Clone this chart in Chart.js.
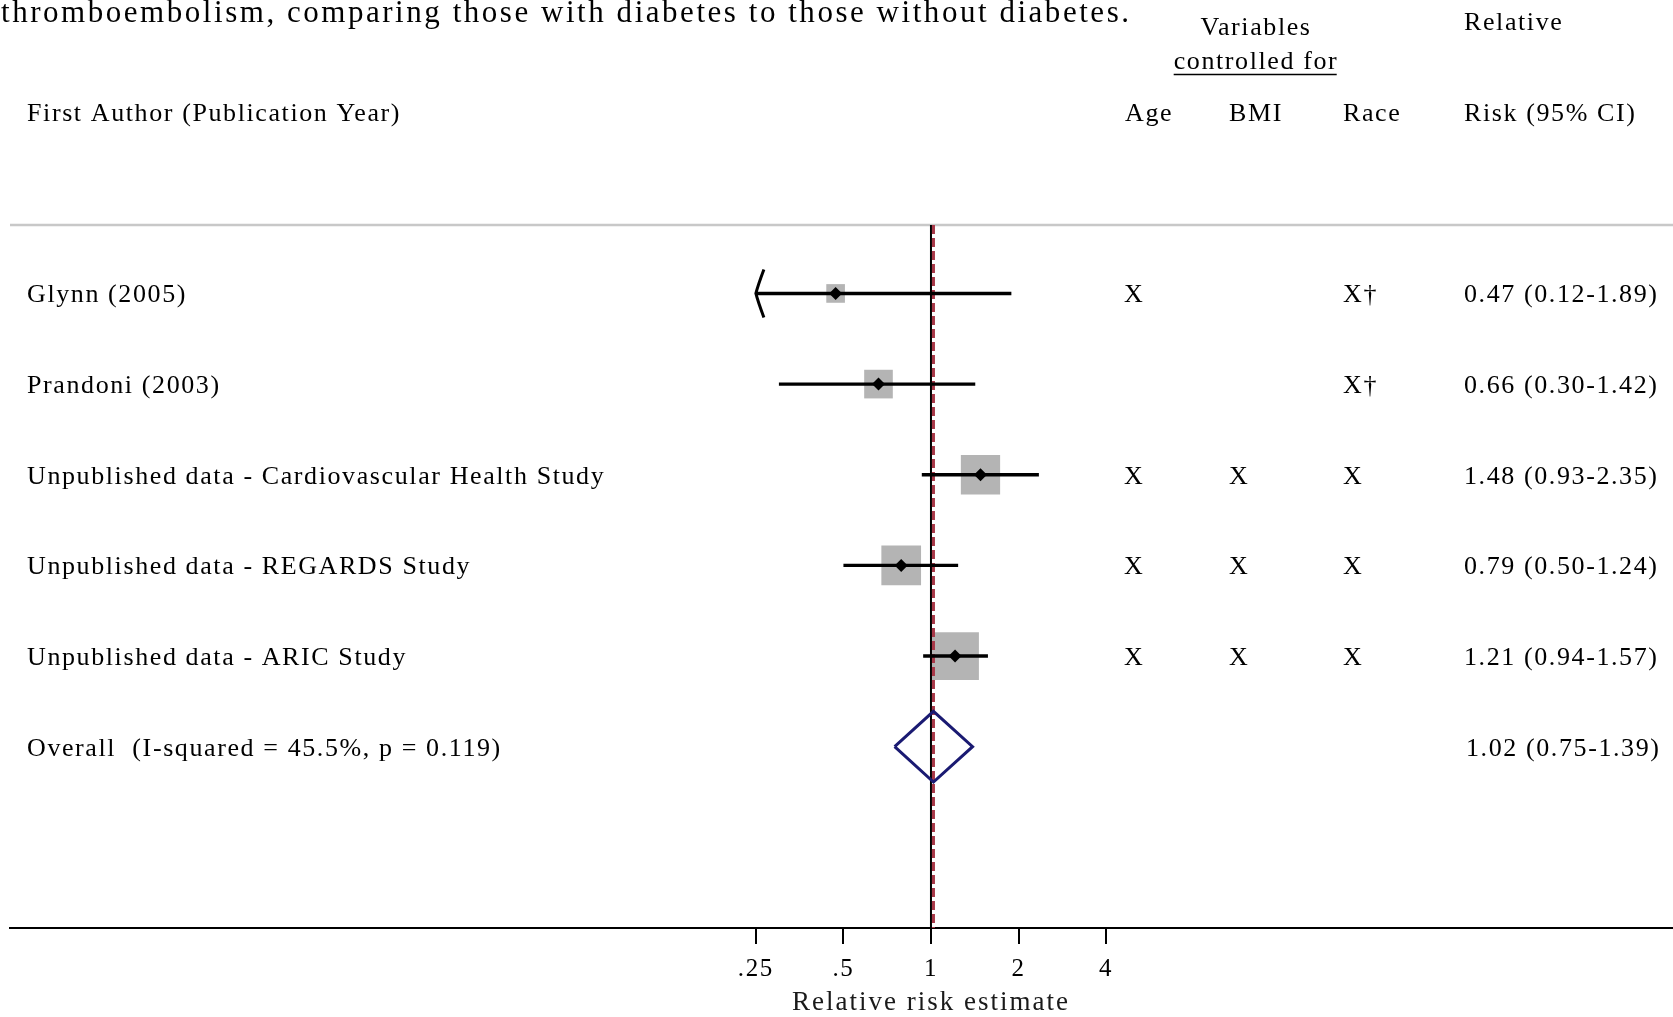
<!DOCTYPE html>
<html>
<head>
<meta charset="utf-8">
<script src="https://cdn.jsdelivr.net/npm/chart.js@4.4.1/dist/chart.umd.min.js"></script>
<style>
  html, body { margin: 0; padding: 0; background: #ffffff; }
  #wrap { width: 1673px; height: 1017px; position: relative; }
</style>
</head>
<body>
<div id="wrap"><canvas id="forest" width="1673" height="1017"></canvas></div>
<script>
// ---- data ----
const studies = [
  'Glynn (2005)',
  'Prandoni (2003)',
  'Unpublished data - Cardiovascular Health Study',
  'Unpublished data - REGARDS Study',
  'Unpublished data - ARIC Study'
];
const relRisk = [0.47, 0.66, 1.48, 0.79, 1.21];
const ciLow   = [0.12, 0.30, 0.93, 0.50, 0.94];
const ciHigh  = [1.89, 1.42, 2.35, 1.24, 1.57];
const weights = [5.3, 12.5, 23.5, 24.0, 34.7];      // study weight, %
const adjAge  = ['X', '', 'X', 'X', 'X'];
const adjBMI  = ['', '', 'X', 'X', 'X'];
const adjRace = ['X\u2020', 'X\u2020', 'X', 'X', 'X'];
const overallLabel = 'Overall  (I-squared = 45.5%, p = 0.119)';
const overallRR   = 1.02;
const overallLow  = 0.75;
const overallHigh = 1.39;
const xTicks      = [0.25, 0.5, 1, 2, 4];
const xTickLabels = ['.25', '.5', '1', '2', '4'];
const xTitle = 'Relative risk estimate';
const clipLow = 0.25;   // intervals are cut at the lowest tick and marked with an arrow

// ---- layout / style ----
const SERIF = '"Liberation Serif", "Times New Roman", serif';
const X_MIN = Math.pow(2, -10.52);
const X_MAX = Math.pow(2, 8.476);
const Y_MIN = -0.755, Y_MAX = 7.0;
const overallRow = studies.length;
const diamondHalf = 0.39;          // overall diamond half height, in rows
const boxScale = 81;               // side of a box with 100% weight, px
const BODY = 26, SPACING = 1.6;

const fmt = v => v.toFixed(2);
const rrText = (r, l, h) => fmt(r) + ' (' + fmt(l) + '-' + fmt(h) + ')';

// ---- datasets ----
const ciSets = studies.map((s, i) => ({
  type: 'line',
  data: [{ x: Math.max(ciLow[i], clipLow), y: i }, { x: ciHigh[i], y: i }],
  borderColor: '#000000',
  borderWidth: 3.4,
  pointRadius: 0,
  showLine: true,
  order: 2
}));

const datasets = [
  {
    label: 'weights',
    data: studies.map((s, i) => ({ x: relRisk[i], y: i })),
    pointStyle: 'rect',
    pointRadius: weights.map(w => boxScale * Math.sqrt(w / 100) / Math.SQRT2),
    backgroundColor: '#b4b4b4',
    borderWidth: 0,
    order: 6
  },
  {
    label: 'no effect',
    type: 'line',
    data: [{ x: 1, y: Y_MIN }, { x: 1, y: Y_MAX }],
    borderColor: '#000000',
    borderWidth: 2,
    pointRadius: 0,
    showLine: true,
    order: 5
  },
  {
    label: 'overall effect',
    type: 'line',
    data: [{ x: overallRR, y: Y_MIN }, { x: overallRR, y: Y_MAX }],
    borderColor: '#a83848',
    borderDash: [9, 4],
    borderWidth: 3,
    pointRadius: 0,
    showLine: true,
    order: 4
  },
  ...ciSets,
  {
    label: 'estimates',
    data: studies.map((s, i) => ({ x: relRisk[i], y: i })),
    pointStyle: 'rectRot',
    pointRadius: 6.5,
    backgroundColor: '#000000',
    borderWidth: 0,
    order: 1
  },
  {
    label: 'overall',
    type: 'line',
    data: [
      { x: overallLow, y: overallRow },
      { x: overallRR, y: overallRow - diamondHalf },
      { x: overallHigh, y: overallRow },
      { x: overallRR, y: overallRow + diamondHalf },
      { x: overallLow, y: overallRow }
    ],
    borderColor: '#1a1a72',
    borderWidth: 3,
    borderJoinStyle: 'miter',
    pointRadius: 0,
    showLine: true,
    fill: false,
    tension: 0,
    order: 1
  }
];

// ---- text columns, header, arrow and frame ----
function txt(ctx, s, x, y, opts = {}) {
  ctx.save();
  ctx.font = (opts.size || BODY) + 'px ' + SERIF;
  ctx.fillStyle = opts.color || '#000000';
  ctx.letterSpacing = (opts.spacing != null ? opts.spacing : SPACING) + 'px';
  ctx.textBaseline = 'alphabetic';
  ctx.textAlign = 'left';
  const w = ctx.measureText(s).width;
  let dx = x;
  if (opts.align === 'center') dx = x - w / 2;
  ctx.fillText(s, dx, y);
  ctx.restore();
  return { left: dx, width: w };
}

const tablePlugin = {
  id: 'forestTable',
  beforeDraw(chart) {
    chart.ctx.letterSpacing = SPACING + 'px';
  },
  beforeDatasetsDraw(chart) {
    const { ctx, chartArea } = chart;
    ctx.save();
    ctx.strokeStyle = '#c8c8c8';
    ctx.lineWidth = 2.5;
    ctx.beginPath();
    ctx.moveTo(chartArea.left, chartArea.top);
    ctx.lineTo(chartArea.right, chartArea.top);
    ctx.stroke();
    ctx.restore();
  },
  afterDatasetsDraw(chart) {
    const { ctx } = chart;
    const xs = chart.scales.x, ys = chart.scales.y;

    // arrow where an interval runs past the axis range
    studies.forEach((s, i) => {
      if (ciLow[i] < clipLow) {
        const ax = xs.getPixelForValue(clipLow), ay = ys.getPixelForValue(i);
        ctx.save();
        ctx.strokeStyle = '#000000';
        ctx.lineWidth = 3;
        ctx.beginPath();
        ctx.moveTo(ax + 8, ay - 24);
        ctx.quadraticCurveTo(ax + 2, ay - 8, ax, ay);
        ctx.quadraticCurveTo(ax + 2, ay + 8, ax + 8, ay + 24);
        ctx.stroke();
        ctx.restore();
      }
    });

    // axis title, centred under the tick range
    const tMid = xs.getPixelForValue(Math.sqrt(xTicks[0] * xTicks[xTicks.length - 1]));
    txt(ctx, xTitle, tMid, 1010, { size: 27, spacing: 2, color: '#1a1a1a', align: 'center' });

    // title line
    const title = 'thromboembolism, comparing those with diabetes to those without diabetes.';
    ctx.save();
    ctx.font = '31px ' + SERIF;
    ctx.letterSpacing = '0px';
    const nat = ctx.measureText(title).width;
    ctx.restore();
    txt(ctx, title, 1, 22, { size: 31, spacing: (1128 - nat) / (title.length - 1) });

    // column headers
    txt(ctx, 'Variables', 1256, 35, { align: 'center' });
    const cf = txt(ctx, 'controlled for', 1256, 69, { align: 'center' });
    ctx.save();
    ctx.strokeStyle = '#000000';
    ctx.lineWidth = 1.5;
    ctx.beginPath();
    ctx.moveTo(cf.left, 74.5);
    ctx.lineTo(cf.left + cf.width - SPACING, 74.5);
    ctx.stroke();
    ctx.restore();
    txt(ctx, 'Relative', 1464, 30);
    txt(ctx, 'First Author (Publication Year)', 27, 121);
    txt(ctx, 'Age', 1125, 121);
    txt(ctx, 'BMI', 1229, 121);
    txt(ctx, 'Race', 1343, 121);
    txt(ctx, 'Risk (95% CI)', 1464, 121);

    // rows
    studies.forEach((s, i) => {
      const y = ys.getPixelForValue(i) + 9;
      txt(ctx, s, 27, y);
      if (adjAge[i]) txt(ctx, adjAge[i], 1124, y);
      if (adjBMI[i]) txt(ctx, adjBMI[i], 1229, y);
      if (adjRace[i]) txt(ctx, adjRace[i], 1343, y);
      txt(ctx, rrText(relRisk[i], ciLow[i], ciHigh[i]), 1464, y);
    });
    const yo = ys.getPixelForValue(overallRow) + 9;
    txt(ctx, overallLabel, 27, yo);
    txt(ctx, rrText(overallRR, overallLow, overallHigh), 1466, yo);
  }
};

new Chart(document.getElementById('forest'), {
  type: 'scatter',
  data: { datasets },
  options: {
    responsive: false,
    animation: false,
    devicePixelRatio: 1,
    layout: { autoPadding: false, padding: { top: 225, left: 10, right: 0, bottom: 0 } },
    plugins: { legend: { display: false }, tooltip: { enabled: false } },
    scales: {
      x: {
        type: 'logarithmic',
        position: 'bottom',
        min: X_MIN,
        max: X_MAX,
        afterBuildTicks: s => { s.ticks = xTicks.map(v => ({ value: v })); },
        afterFit: s => { s.height = 89; s.paddingLeft = 0; s.paddingRight = 0; },
        ticks: {
          autoSkip: false,
          maxRotation: 0,
          padding: 13,
          color: '#000000',
          font: { family: SERIF, size: 25, lineHeight: 1 },
          callback: (v, idx) => xTickLabels[idx]
        },
        grid: {
          drawOnChartArea: false,
          drawTicks: true,
          tickLength: 16,
          tickWidth: 2,
          tickColor: '#000000',
          color: '#000000',
          lineWidth: 2
        },
        border: { display: true, color: '#000000', width: 2 },
        title: { display: false }
      },
      y: {
        display: false,
        reverse: true,
        min: Y_MIN,
        max: Y_MAX
      }
    }
  },
  plugins: [tablePlugin]
});
</script>
</body>
</html>
